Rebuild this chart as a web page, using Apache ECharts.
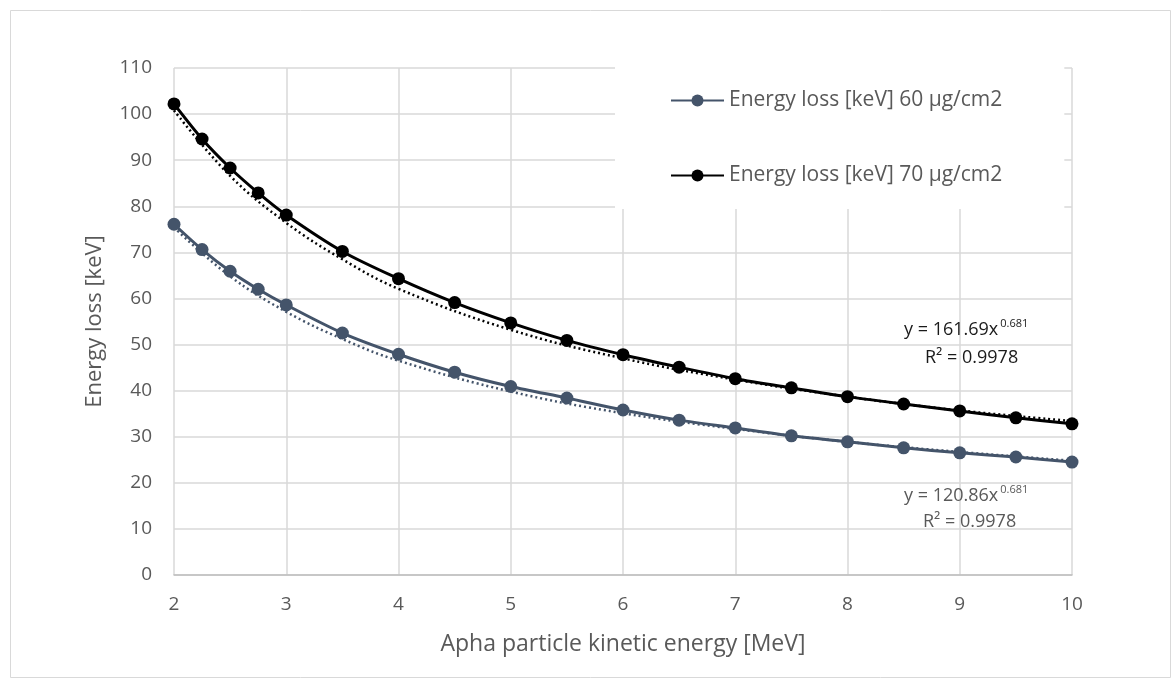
<!DOCTYPE html>
<html>
<head>
<meta charset="utf-8">
<script src="https://cdn.jsdelivr.net/npm/echarts@6/dist/echarts.min.js"></script>
<style>
html,body{margin:0;padding:0;background:#fff;}
#c{width:1171px;height:678px;}
</style>
</head>
<body>
<div id="c"></div>
<script>
// Data
var energyMeV = [2, 2.25, 2.5, 2.75, 3, 3.5, 4, 4.5, 5, 5.5, 6, 6.5, 7, 7.5, 8, 8.5, 9, 9.5, 10];
var loss60 = [76.1, 70.6, 65.9, 62.0, 58.6, 52.5, 47.9, 44.0, 40.9, 38.4, 35.8, 33.6, 31.9, 30.2, 28.9, 27.6, 26.5, 25.6, 24.5];
var loss70 = [102.2, 94.6, 88.3, 82.9, 78.1, 70.2, 64.3, 59.1, 54.7, 50.9, 47.8, 45.1, 42.6, 40.6, 38.7, 37.1, 35.6, 34.1, 32.8];
// Dotted trend lines (power fit)
var trendX = [2, 2.5, 3, 3.5, 4, 5, 6, 7, 8, 9, 10];
var trend60 = [75.4, 64.8, 57.1, 51.2, 46.5, 39.8, 35.1, 31.7, 28.9, 26.7, 24.8];
var trend70 = [100.8, 86.6, 76.4, 68.5, 62.1, 53.2, 47.0, 42.4, 38.7, 35.7, 33.4];
var seriesNames = ['Energy loss [keV] 60 \u00b5g/cm2', 'Energy loss [keV] 70 \u00b5g/cm2'];
var xTicks = [2, 3, 4, 5, 6, 7, 8, 9, 10];
var yTicks = [0, 10, 20, 30, 40, 50, 60, 70, 80, 90, 100, 110];

var FONT = '"Open Sans", Lato, sans-serif';
var BLUE = '#44546a';
var TXT = '#595959';

function pairs(xs, ys) { return xs.map(function (x, i) { return [x, ys[i]]; }); }

var chart = echarts.init(document.getElementById('c'), null, { renderer: 'canvas' });
chart.setOption({
  animation: false,
  backgroundColor: '#fff',
  textStyle: { fontFamily: FONT },
  grid: { left: 174, right: 99, top: 68, bottom: 103 },
  xAxis: {
    type: 'value', min: xTicks[0], max: xTicks[xTicks.length - 1], interval: 1,
    name: 'Apha particle kinetic energy [MeV]', nameLocation: 'middle', nameGap: 58,
    nameTextStyle: { color: TXT, fontSize: 23, fontFamily: FONT },
    axisLine: { lineStyle: { color: '#bfbfbf', width: 1.5 } },
    axisTick: { show: false },
    axisLabel: { color: TXT, fontSize: 19, margin: 20, fontFamily: FONT },
    splitLine: { show: true, lineStyle: { color: '#d9d9d9', width: 1.5 } }
  },
  yAxis: {
    type: 'value', min: yTicks[0], max: yTicks[yTicks.length - 1], interval: 10,
    name: 'Energy loss [keV]', nameLocation: 'middle', nameGap: 68, nameRotate: 90,
    nameTextStyle: { color: TXT, fontSize: 22, fontFamily: FONT },
    axisLine: { show: false },
    axisTick: { show: false },
    axisLabel: { color: TXT, fontSize: 19, margin: 22, fontFamily: FONT },
    splitLine: { show: true, lineStyle: { color: '#d9d9d9', width: 1.5 } }
  },
  legend: {
    data: seriesNames,
    orient: 'vertical',
    left: 615, top: 60,
    padding: [30, 62, 23, 55],
    backgroundColor: '#fff',
    itemWidth: 53, itemHeight: 15, itemGap: 54,
    textStyle: { color: TXT, fontSize: 21, fontFamily: FONT }
  },
  series: [
    {
      name: seriesNames[0], type: 'line', data: pairs(energyMeV, loss60),
      smooth: 0.3, symbol: 'circle', symbolSize: 13,
      lineStyle: { color: BLUE, width: 3 }, itemStyle: { color: BLUE }, z: 3
    },
    {
      name: seriesNames[1], type: 'line', data: pairs(energyMeV, loss70),
      smooth: 0.3, symbol: 'circle', symbolSize: 13,
      lineStyle: { color: '#000', width: 3 }, itemStyle: { color: '#000' }, z: 3
    },
    {
      name: 'trend60', type: 'line', data: pairs(trendX, trend60), smooth: 0.4,
      showSymbol: false, silent: true,
      lineStyle: { color: BLUE, width: 2.5, type: [2, 3] }, z: 2
    },
    {
      name: 'trend70', type: 'line', data: pairs(trendX, trend70), smooth: 0.4,
      showSymbol: false, silent: true,
      lineStyle: { color: '#000', width: 2.5, type: [2, 3] }, z: 2
    }
  ],
  graphic: [
    { type: 'rect', left: 8, top: 8, shape: { width: 1160, height: 667 }, silent: true,
      style: { fill: 'none', stroke: '#d9d9d9', lineWidth: 1 }, z: -10 },
    { type: 'text', left: 904, top: 318, z: 10,
      style: { text: '{a|y = 161.69x}{b|0.681}', rich: {
        a: { fontSize: 18, fill: '#1a1a1a', fontFamily: FONT },
        b: { fontSize: 11, fill: '#1a1a1a', fontFamily: FONT, verticalAlign: 'top', padding: [0, 0, 12, 2] } } } },
    { type: 'text', left: 925, top: 349, z: 10,
      style: { text: 'R\u00b2 = 0.9978', fontSize: 18, fill: '#1a1a1a', fontFamily: FONT } },
    { type: 'text', left: 904, top: 484, z: 10,
      style: { text: '{a|y = 120.86x}{b|0.681}', rich: {
        a: { fontSize: 18, fill: TXT, fontFamily: FONT },
        b: { fontSize: 11, fill: TXT, fontFamily: FONT, verticalAlign: 'top', padding: [0, 0, 12, 2] } } } },
    { type: 'text', left: 923, top: 513, z: 10,
      style: { text: 'R\u00b2 = 0.9978', fontSize: 18, fill: TXT, fontFamily: FONT } }
  ]
});
</script>
</body>
</html>
